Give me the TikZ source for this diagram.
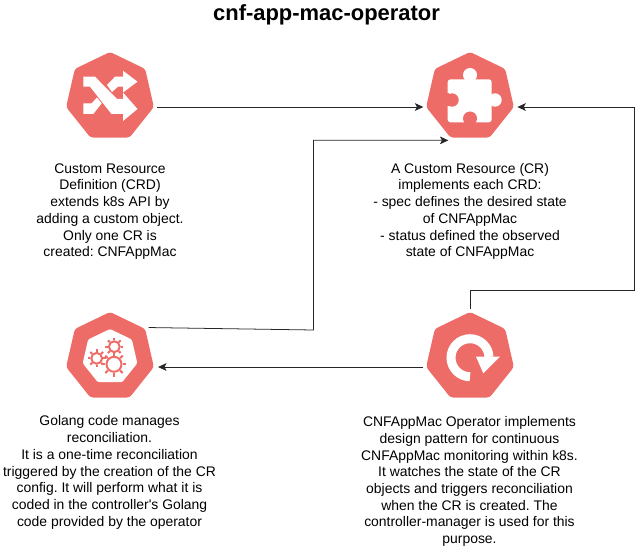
\documentclass[tikz,border=0pt]{standalone}
\usepackage{fontspec}
\setmainfont{Liberation Sans}
\usepackage{xcolor}
\usetikzlibrary{shapes.geometric,arrows.meta}
\definecolor{k8sred}{HTML}{EE6C68}
\frenchspacing
\tikzset{
    hepta/.style={regular polygon,regular polygon sides=7,minimum size=2.25cm,inner sep=0pt,outer sep=0pt,fill=k8sred,rounded corners=2pt},
    caption/.style={align=center,inner sep=0pt,font=\fontsize{9.9}{11.9}\selectfont},
    flow/.style={-{Stealth[length=6pt,width=5.5pt,inset=1.5pt]},black!85,line width=0.55pt},
}
\newcommand{\gearicon}[3]{
    \foreach \a in {0,45,...,315}
        \draw[k8sred,line width=1.5pt] (#1,#2) ++(\a:#3*0.8) -- ++(\a:#3*0.32);
    \draw[k8sred,line width=1.4pt] (#1,#2) circle[radius=#3*0.68];
}
\begin{document}
\begin{tikzpicture}[x=0.025cm,y=-0.025cm]
    \useasboundingbox (0,0) rectangle (643,550);
    \node[font=\bfseries\fontsize{15.6}{19}\selectfont,inner sep=0pt] (title) at (326.5,15) {cnf-app-mac-operator};

    \node[hepta] (crd) at (110,97) {};
    \node[hepta] (cr) at (470,97) {};
    \node[hepta] (code) at (110,357) {};
    \node[hepta] (op) at (470,357) {};

    \fill[white] (83.3,76.7)--(95,76.7)--(117,99)--(123,99)--(123,92.5)--(137.5,109)--(123,121)--(123,114)--(111.5,114)--(90,86.7)--(83.3,86.7)--cycle;
    \fill[white] (107,85)--(115,76.7)--(123,76.7)--(123,70.7)--(137.5,81.7)--(123,92.5)--(123,86.7)--(118,86.7)--(112,92)--cycle;
    \fill[white] (83.3,103.3)--(91.7,103.3)--(97,97.5)--(101.7,103.3)--(93.3,114)--(83.3,114)--cycle;

    \fill[white,rounded corners=2pt] (447.7,79.3) rectangle (491.7,122.3);
    \fill[white] (470,75) circle[radius=7];
    \fill[white] (495,100) circle[radius=6.7];
    \fill[k8sred] (452,100) circle[radius=6.7];
    \fill[k8sred] (470,118.5) circle[radius=7];
    \fill[k8sred] (447,93.5) rectangle (449,106.5);

    \node[regular polygon,regular polygon sides=7,minimum size=1.4cm,inner sep=0pt,fill=white,rounded corners=1pt] (gearbed) at (110,357) {};
    \gearicon{114}{364.3}{11}
    \gearicon{96.7}{358.3}{8}
    \gearicon{114.3}{346.7}{8}

    \draw[white,line width=6.4pt] (470,376.7) arc[start angle=90,end angle=358,radius=19];
    \fill[white] (476,356.7)--(500,356.7)--(483.3,373.3)--cycle;

    \draw[flow] ([xshift=2.4pt]crd.corner 6) -- ([xshift=-2pt]cr.corner 3);
    \draw[flow] ([shift={(2.5pt,1pt)}]code.corner 7) -- (313.5,330) |- ([shift={(-1.5pt,-2pt)}]cr.corner 4);
    \draw[flow] ([yshift=2pt]op.corner 1) |- (634,290) |- ([xshift=2.5pt]cr.corner 6);
    \draw[flow] ([xshift=-2pt]op.corner 3) -- ([xshift=3pt]code.corner 6);

    \node[caption] (crdtext) at (110,211.5) {Custom Resource\\Definition (CRD)\\extends k8s API by\\adding a custom object.\\Only one CR is\\created: CNFAppMac};
    \node[caption] (crtext) at (470,211.5) {A Custom Resource (CR)\\implements each CRD:\\- spec defines the desired state\\of CNFAppMac\\- status defined the observed\\state of CNFAppMac};
    \node[caption] (codetext) at (109.5,472.5) {Golang code manages\\reconciliation.\\It is a one-time reconciliation\\triggered by the creation of the CR\\config. It will perform what it is\\coded in the controller\textquotesingle s Golang\\code provided by the operator};
    \node[caption] (optext) at (469.5,481.5) {CNFAppMac Operator implements\\design pattern for continuous\\CNFAppMac monitoring within k8s.\\It watches the state of the CR\\objects and triggers reconciliation\\when the CR is created. The\\controller-manager is used for this\\purpose.};
\end{tikzpicture}
\end{document}
